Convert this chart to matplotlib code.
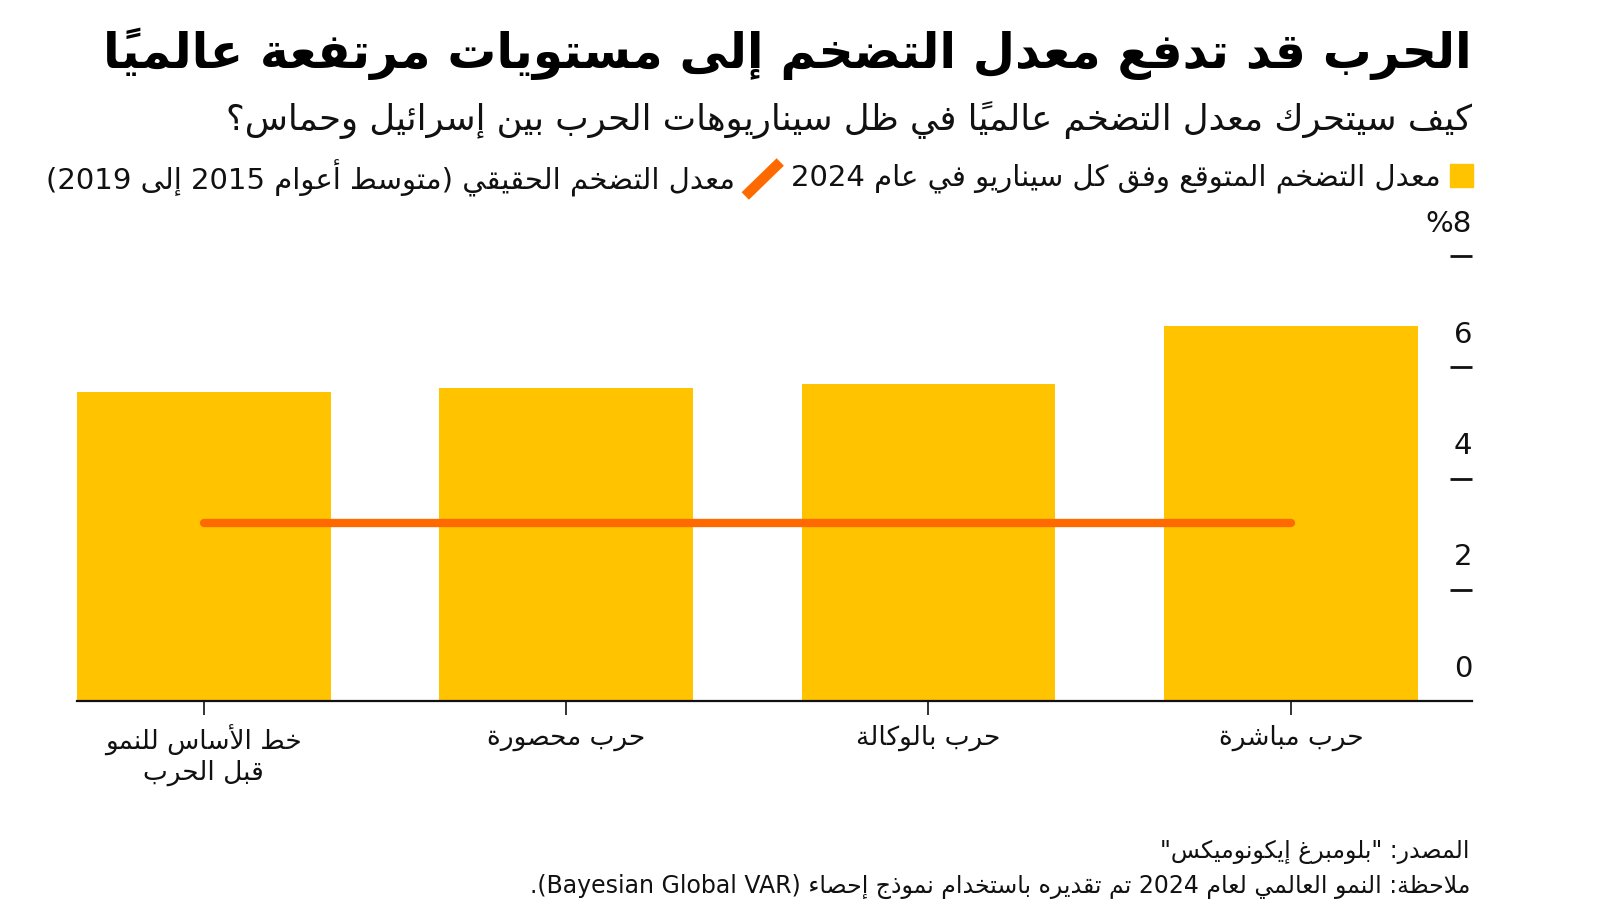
import matplotlib
matplotlib.use("Agg")
import matplotlib.pyplot as plt
from matplotlib.patches import Rectangle
from matplotlib.lines import Line2D

# ---- data (categories listed left to right as drawn) ----
categories = ["خط الأساس للنمو\nقبل الحرب", "حرب محصورة", "حرب بالوكالة", "حرب مباشرة"]
expected_inflation = [5.55, 5.63, 5.70, 6.74]
actual_inflation = [3.2, 3.2, 3.2, 3.2]
y_ticks = [0, 2, 4, 6, 8]
y_tick_labels = ["0", "2", "4", "6", "%8"]

title = "الحرب قد تدفع معدل التضخم إلى مستويات مرتفعة عالمياً"
subtitle = "كيف سيتحرك معدل التضخم عالمياً في ظل سيناريوهات الحرب بين إسرائيل وحماس؟"
legend_bar = "معدل التضخم المتوقع وفق كل سيناريو في عام 2024"
legend_line = "معدل التضخم الحقيقي (متوسط أعوام 2015 إلى 2019)"
source = 'المصدر: "بلومبرغ إيكونوميكس"'
note = "ملاحظة: النمو العالمي لعام 2024 تم تقديره باستخدام نموذج إحصاء (Bayesian Global VAR)."

YELLOW = "#FFC300"
ORANGE = "#FF6A00"
INK = "#111111"

# ---- minimal arabic shaping + rtl ordering (matplotlib has no text shaping) ----
# letter -> (first presentation form, joining: 0 none, 1 right only, 2 dual)
FORMS = {
    'ء': (0xFE80, 0), 'آ': (0xFE81, 1), 'أ': (0xFE83, 1), 'ؤ': (0xFE85, 1),
    'إ': (0xFE87, 1), 'ئ': (0xFE89, 2), 'ا': (0xFE8D, 1), 'ب': (0xFE8F, 2),
    'ة': (0xFE93, 1), 'ت': (0xFE95, 2), 'ث': (0xFE99, 2), 'ج': (0xFE9D, 2),
    'ح': (0xFEA1, 2), 'خ': (0xFEA5, 2), 'د': (0xFEA9, 1), 'ذ': (0xFEAB, 1),
    'ر': (0xFEAD, 1), 'ز': (0xFEAF, 1), 'س': (0xFEB1, 2), 'ش': (0xFEB5, 2),
    'ص': (0xFEB9, 2), 'ض': (0xFEBD, 2), 'ط': (0xFEC1, 2), 'ظ': (0xFEC5, 2),
    'ع': (0xFEC9, 2), 'غ': (0xFECD, 2), 'ف': (0xFED1, 2), 'ق': (0xFED5, 2),
    'ك': (0xFED9, 2), 'ل': (0xFEDD, 2), 'م': (0xFEE1, 2), 'ن': (0xFEE5, 2),
    'ه': (0xFEE9, 2), 'و': (0xFEED, 1), 'ى': (0xFEEF, 1), 'ي': (0xFEF1, 2),
}
LAM_ALEF = {'ا': 0xFEFB, 'أ': 0xFEF7, 'إ': 0xFEF9, 'آ': 0xFEF5}
MIRROR = {'(': ')', ')': '(', '[': ']', ']': '['}


def is_mark(c):
    return 0x064B <= ord(c) <= 0x0652


def shape(text):
    # group into letters (lam-alef merged), marks kept in place
    items = []
    i = 0
    while i < len(text):
        c = text[i]
        if c == 'ل' and i + 1 < len(text) and text[i + 1] in LAM_ALEF:
            items.append(['LA', text[i + 1]])
            i += 2
        else:
            items.append(['C', c])
            i += 1

    def jtype(it):
        if it[0] == 'LA':
            return 1
        return FORMS[it[1]][1] if it[1] in FORMS else -1

    out = []
    for k, it in enumerate(items):
        if it[0] == 'C' and (it[1] not in FORMS):
            out.append(it[1])
            continue
        # neighbours, skipping marks
        p = k - 1
        while p >= 0 and items[p][0] == 'C' and is_mark(items[p][1]):
            p -= 1
        n = k + 1
        while n < len(items) and items[n][0] == 'C' and is_mark(items[n][1]):
            n += 1
        jt = jtype(it)
        join_prev = jt >= 1 and p >= 0 and jtype(items[p]) == 2
        join_next = jt == 2 and n < len(items) and jtype(items[n]) >= 1
        if it[0] == 'LA':
            out.append(chr(LAM_ALEF[it[1]] + (1 if join_prev else 0)))
            continue
        base = FORMS[it[1]][0]
        if join_prev and join_next:
            off = 3
        elif join_prev:
            off = 1
        elif join_next:
            off = 2
        else:
            off = 0
        out.append(chr(base + off))
    return "".join(out)


def ctype(c):
    o = ord(c)
    if 0x0600 <= o <= 0x06FF or 0xFE70 <= o <= 0xFEFF:
        return 'R'
    if c.isascii() and c.isalnum():
        return 'L'
    return 'N'


def visual(line):
    s = shape(line)
    # clusters: base char + following marks
    clusters = []
    for c in s:
        if is_mark(c) and clusters:
            clusters[-1] += c
        else:
            clusters.append(c)
    types = [ctype(cl[0]) for cl in clusters]
    for k, t in enumerate(types):
        if t == 'N':
            prev = next((types[j] for j in range(k - 1, -1, -1) if types[j] != 'N'), 'R')
            nxt = next((types[j] for j in range(k + 1, len(types)) if types[j] != 'N'), 'R')
            types[k] = 'L' if (prev == 'L' and nxt == 'L') else 'R'
    runs = []
    for cl, t in zip(clusters, types):
        if runs and runs[-1][0] == t:
            runs[-1][1].append(cl)
        else:
            runs.append([t, [cl]])
    parts = []
    for t, cls in reversed(runs):
        if t == 'R':
            parts.append("".join(MIRROR.get(c, c) for c in reversed(cls)))
        else:
            parts.append("".join(cls))
    return "".join(parts)


def ar(text):
    return "\n".join(visual(l) for l in text.split("\n"))


plt.rcParams['font.family'] = ['DejaVu Sans']

W, H = 1600, 919
fig = plt.figure(figsize=(16, 9.19), dpi=100)


def fx(px):
    return px / W


def fy(py):
    return 1 - py / H


# ---- axes ----
ax = fig.add_axes([fx(77), fy(701), fx(1472 - 77), (701 - 256) / H])
x = list(range(len(categories)))
ax.bar(x, expected_inflation, width=0.7, color=YELLOW, zorder=1)
ax.plot(x, actual_inflation, color=ORANGE, lw=6, solid_capstyle='round', zorder=2)

ax.set_xlim(-0.35, 3.5)
ax.set_ylim(0, 8)
for s in ["left", "top", "right"]:
    ax.spines[s].set_visible(False)
ax.spines["bottom"].set_linewidth(1.6)
ax.spines["bottom"].set_color(INK)
ax.spines["bottom"].set_zorder(3)

ax.set_xticks(x)
ax.set_xticklabels([ar(c) for c in categories], fontsize=19, color=INK, linespacing=1.2)
ax.tick_params(axis="x", length=10, width=1.2, color=INK, pad=7)

ax.yaxis.tick_right()
ax.set_yticks(y_ticks[1:])
ax.set_yticklabels([])
ax.tick_params(axis="y", direction="in", length=16, width=2, color=INK)
for v, lab in zip(y_ticks, y_tick_labels):
    ax.text(1.0, v + 0.58, lab, transform=ax.get_yaxis_transform(),
            ha="right", va="center", fontsize=21, color=INK)

# ---- titles ----
fig.text(fx(1472), fy(54), ar(title), ha="right", va="center",
         fontsize=35, fontweight="bold", color="black")
fig.text(fx(1472), fy(120), ar(subtitle), ha="right", va="center",
         fontsize=25.5, color=INK)

# ---- legend ----
fig.patches.append(Rectangle((fx(1450), fy(187)), fx(23), 23 / H,
                             transform=fig.transFigure, color=YELLOW))
t1 = fig.text(fx(1441), fy(178), ar(legend_bar), ha="right", va="center",
              fontsize=21, color=INK)
fig.canvas.draw()
bb = t1.get_window_extent()
left = bb.x0  # pixels from left
fig.lines.append(Line2D([left - 46, left - 11], [H - 196, H - 162],
                        transform=None, color=ORANGE, lw=7.5, solid_capstyle="butt"))
fig.text((left - 56) / W, fy(178), ar(legend_line), ha="right", va="center",
         fontsize=21, color=INK)

# ---- footer ----
fig.text(fx(1470), fy(852), ar(source), ha="right", va="center", fontsize=17, color=INK)
fig.text(fx(1470), fy(886), ar(note), ha="right", va="center", fontsize=17, color=INK)

fig.savefig("out.png", dpi=100)
